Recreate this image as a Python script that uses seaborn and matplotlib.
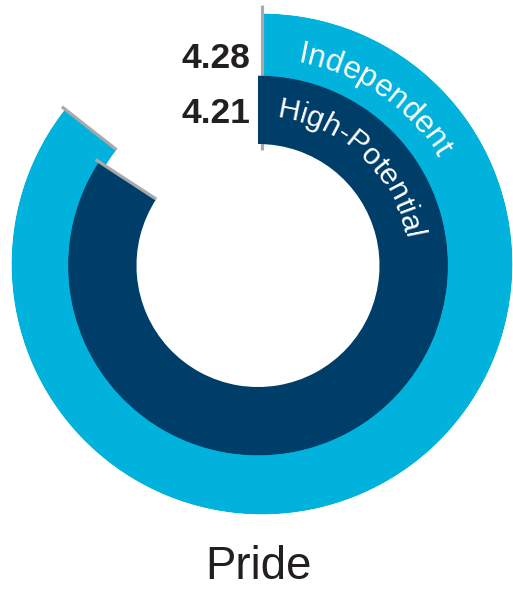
import numpy as np
import matplotlib
matplotlib.use("Agg")
import matplotlib.pyplot as plt
from matplotlib.font_manager import FontProperties
import seaborn as sns

# Survey scores on a 1-5 scale, one ring per group
groups = ["Independent", "High-Potential"]
scores = [4.28, 4.21]
scale_max = 5
title = "Pride"

sns.set_theme(style="white")
palette = sns.color_palette(["#00B2DC", "#003E6A"])
rule_gray = "#A7A9AC"
ink = "#231F20"
plt.rcParams["font.family"] = ["Liberation Sans", "DejaVu Sans"]

W, H, DPI = 513, 599, 100
fig = plt.figure(figsize=(W / DPI, H / DPI), dpi=DPI)
fig.patch.set_facecolor("white")

# ring geometry in pixels: (centre x, centre y, inner radius, outer radius)
# the outer ring tucks under the inner one so they meet without a seam
ring_geom = [(262.0, 264.0, 185.0, 250.5),
             (258.0, 265.5, 121.5, 190.0)]
label_base = [(10.0, 205.0, 22.6), (7.0, 149.0, 21.8)]  # start angle, baseline radius, size

renderer = fig.canvas.get_renderer()


def text_width(s, prop):
    if not s:
        return 0.0
    w, _, _ = renderer.get_text_width_height_descent(s, prop, ismath=False)
    return w


def arc_text(ax, label, start_deg, r_base, size):
    prop = FontProperties(family="Liberation Sans", size=size)
    for i, ch in enumerate(label):
        s_mid = 0.5 * (text_width(label[:i], prop) + text_width(label[:i + 1], prop))
        th = np.deg2rad(start_deg) + s_mid / r_base
        ax.text(th, r_base, ch, fontproperties=prop, color="white",
                rotation=-np.rad2deg(th), rotation_mode="anchor",
                ha="center", va="baseline", zorder=4)


for k, (grp, score, col, (cx, cy, r0, r1), lab) in enumerate(
        zip(groups, scores, palette, ring_geom, label_base)):
    ax = fig.add_axes([(cx - r1) / W, (H - cy - r1) / H, 2 * r1 / W, 2 * r1 / H],
                      projection="polar")
    ax.set_theta_zero_location("N")
    ax.set_theta_direction(-1)
    ax.set_ylim(0, r1)
    ax.set_axis_off()
    ax.patch.set_alpha(0)

    ang = np.deg2rad(score / scale_max * 360)
    ax.bar(0, r1 - r0, width=ang, bottom=r0, align="edge", color=col,
           edgecolor="none", linewidth=0, zorder=2)
    # end cap rule
    ax.plot([ang, ang], [r0, r1 + 4], color=rule_gray, lw=2.3,
            solid_capstyle="butt", zorder=3, clip_on=False)
    if k == 0:
        # start rule at twelve o'clock
        ax.plot([0, 0], [114, 259], color=rule_gray, lw=2.3,
                solid_capstyle="butt", zorder=5, clip_on=False)
    arc_text(ax, grp, *lab)

# value labels
label_y = [68, 123]
for s, y in zip(scores, label_y):
    fig.text(250 / W, 1 - y / H, f"{s:.2f}", ha="right", va="baseline",
             fontsize=25.5, fontweight="bold", color=ink)

fig.text(258.3 / W, 1 - 579.3 / H, title, ha="center", va="baseline",
         fontsize=32.8, color=ink)

fig.savefig("out.png", dpi=DPI, facecolor="white")
